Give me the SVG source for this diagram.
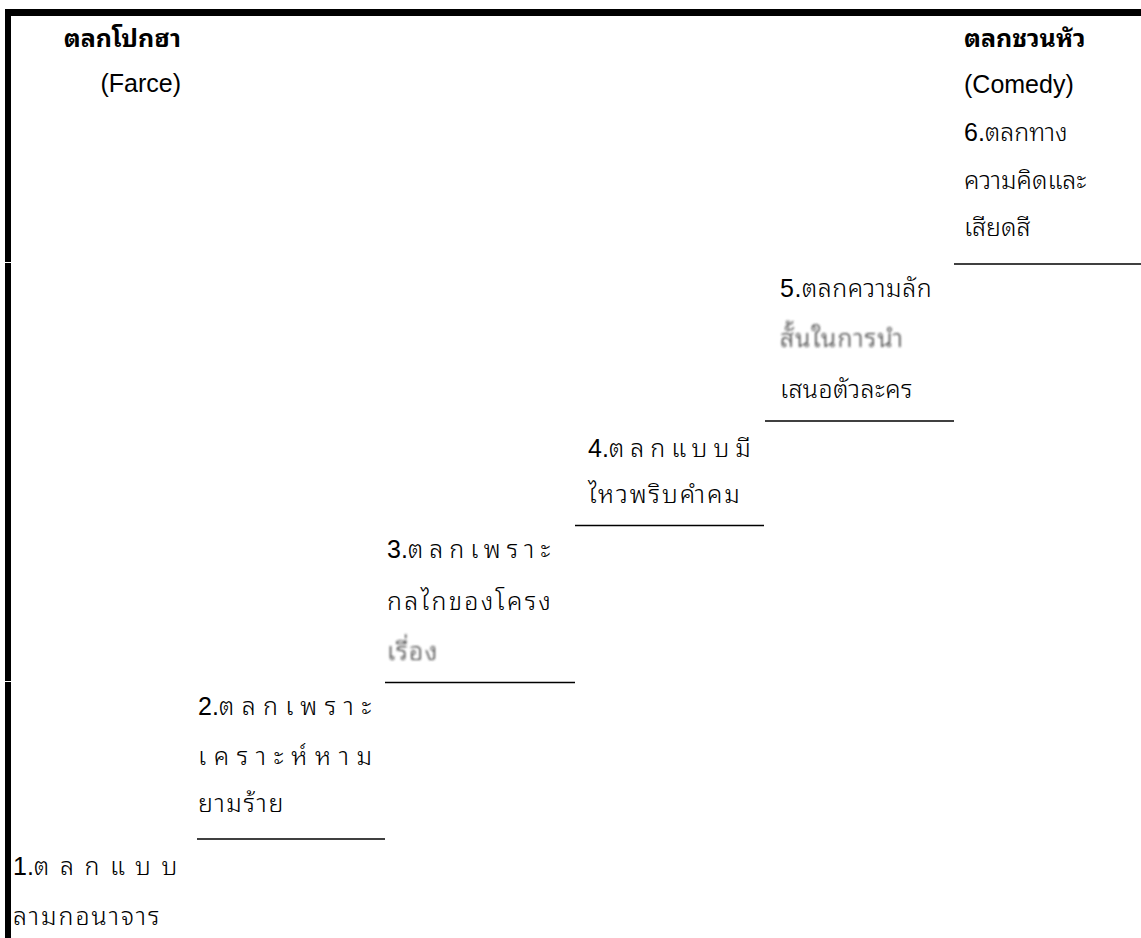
<svg xmlns="http://www.w3.org/2000/svg" width="1141" height="938" viewBox="0 0 1141 938">
<style>
text{font-family:"Liberation Sans","Noto Sans Thai Looped","Loma","Garuda","Tlwg Typo","Noto Sans Thai",sans-serif;font-size:25px;font-weight:300;fill:#000}
.b{font-weight:bold}
.blur{fill:#333;filter:url(#bl)}
.ln{stroke:#000;stroke-width:1.4}
</style>
<defs>
<filter id="bl" x="-10%" y="-40%" width="120%" height="180%"><feGaussianBlur stdDeviation="1"/></filter>
</defs>
<rect width="1141" height="938" fill="#fff"/>
<g id="frame">
<rect x="5" y="9" width="1136" height="7" fill="#000"/>
<rect x="5" y="9" width="6" height="253" fill="#000"/>
<rect x="5" y="263" width="6" height="418" fill="#000"/>
<rect x="5" y="682" width="6" height="256" fill="#000"/>
</g>
<g id="connectors">
<line class="ln" x1="954" y1="264" x2="1141" y2="264"/>
<line class="ln" x1="765" y1="421" x2="954" y2="421"/>
<line class="ln" x1="575" y1="525.5" x2="764" y2="525.5"/>
<line class="ln" x1="385" y1="682.5" x2="575" y2="682.5"/>
<line class="ln" x1="197" y1="839" x2="385" y2="839"/>
</g>
<g id="farce">
<text class="b" x="181" y="47" text-anchor="end">ตลกโปกฮา</text>
<text x="181" y="92" text-anchor="end">(Farce)</text>
</g>
<g id="comedy">
<text class="b" x="964" y="47">ตลกชวนหัว</text>
<text x="964" y="93">(Comedy)</text>
</g>
<g id="node6">
<text x="964" y="141">6.ตลกทาง</text>
<text x="964" y="189">ความคิดและ</text>
<text x="964" y="236">เสียดสี</text>
</g>
<g id="node5">
<text x="780" y="297" letter-spacing="0.5">5.ตลกความลัก</text>
<text class="blur" x="780" y="347" letter-spacing="1.2">สั้นในการนำ</text>
<text x="780" y="398" letter-spacing="0.4">เสนอตัวละคร</text>
</g>
<g id="node4">
<text x="588" y="457">4.<tspan letter-spacing="6">ตลกแบบมี</tspan></text>
<text x="588" y="503" letter-spacing="1.9">ไหวพริบคำคม</text>
</g>
<g id="node3">
<text x="387" y="558">3.<tspan letter-spacing="6">ตลกเพราะ</tspan></text>
<text x="387" y="610" letter-spacing="2.3">กลไกของโครง</text>
<text class="blur" x="387" y="660" letter-spacing="1.5">เรื่อง</text>
</g>
<g id="node2">
<text x="198" y="715">2.<tspan letter-spacing="7.4">ตลกเพราะ</tspan></text>
<text x="198" y="765" letter-spacing="7.6">เคราะห์หาม</text>
<text x="198" y="812" letter-spacing="1.6">ยามร้าย</text>
</g>
<g id="node1">
<text x="13" y="875">1.<tspan letter-spacing="10.6">ตลกแบบ</tspan></text>
<text x="13" y="925" letter-spacing="2">ลามกอนาจาร</text>
</g>
</svg>
